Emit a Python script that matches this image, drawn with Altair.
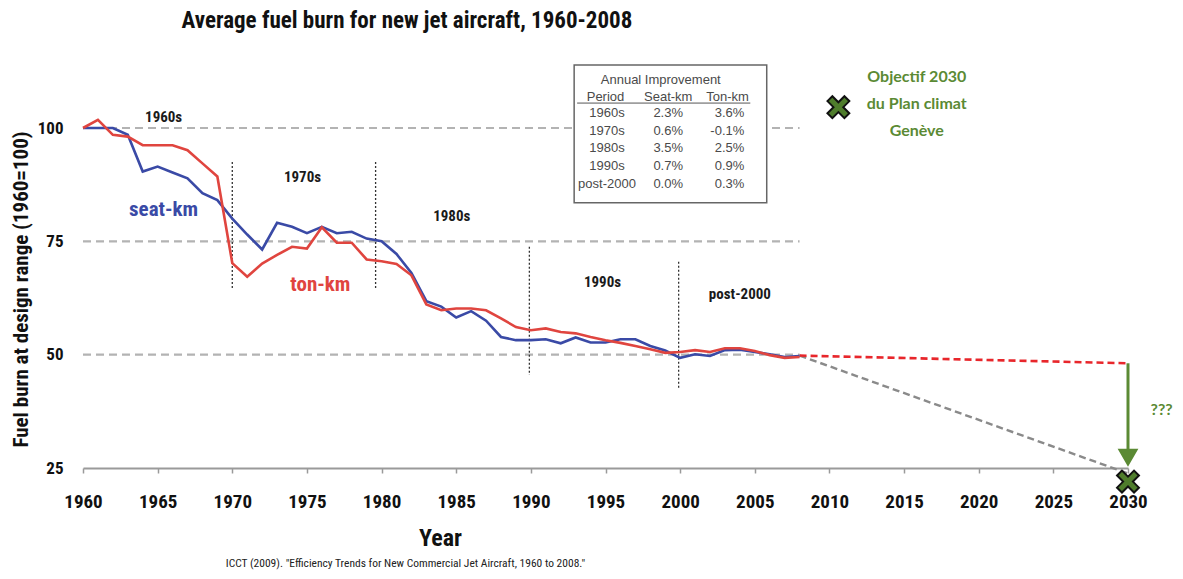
import altair as alt
import pandas as pd

# ---------------- data ----------------
years = list(range(1960, 2009))
seat_km = [100, 100, 100, 98.5, 90.4, 91.5, 90.2, 88.9, 85.6, 84.1,
           80.0, 76.5, 73.2, 79.1, 78.2, 76.8, 78.2, 76.8, 77.1, 75.6,
           75.0, 72.2, 68.0, 61.8, 60.6, 58.2, 59.6, 57.5, 53.9, 53.2,
           53.2, 53.4, 52.5, 53.8, 52.7, 52.7, 53.4, 53.4, 51.9, 50.9,
           49.3, 50.1, 49.7, 51.0, 51.1, 50.6, 50.1, 49.5, 49.7]
ton_km = [100, 101.8, 98.5, 98.1, 96.2, 96.2, 96.2, 95.1, 92.2, 89.3,
          70.2, 67.2, 70.1, 72.0, 73.8, 73.4, 78.1, 74.7, 74.7, 71.0,
          70.6, 70.0, 67.5, 61.1, 59.8, 60.2, 60.2, 59.8, 58.0, 56.1,
          55.4, 55.8, 55.0, 54.7, 53.9, 53.2, 52.6, 51.9, 51.2, 50.4,
          50.6, 51.0, 50.6, 51.4, 51.4, 50.8, 49.9, 49.3, 49.5]

x_ticks = list(range(1960, 2031, 5))
y_ticks = [25, 50, 75, 100]
grid_levels = [50, 75, 100]

# projections beyond 2008
proj_red_x = [2008, 2030]
proj_red_y = [49.8, 48.1]
proj_gray_x = [2008, 2030]
proj_gray_y = [49.8, 23.8]
arrow_x = [2030]
arrow_top = [48.1]
arrow_tip = [25.7]
target_x = [2010.6, 2030]
target_y = [104.6, 22.0]

# decade separators (dotted)
sep_years = [1970, 1979.6, 1989.9, 1999.9]
sep_top = [92.5, 92.5, 73.8, 70.5]
sep_bottom = [64.3, 64.3, 45.5, 42.6]

# decade labels
decade_text = ["1960s", "1970s", "1980s", "1990s", "post-2000"]
decade_x = [1965.4, 1974.7, 1984.7, 1994.8, 2004.0]
decade_y = [102.5, 89.2, 80.6, 66.0, 63.4]

# series labels
series_text = ["seat-km", "ton-km"]
series_x = [1965.4, 1975.9]
series_y = [81.9, 65.4]
series_color = ["#3a4aa6", "#e0453f"]

# improvement table
tbl_period = ["1960s", "1970s", "1980s", "1990s", "post-2000"]
tbl_seat = ["2.3%", "0.6%", "3.5%", "0.7%", "0.0%"]
tbl_ton = ["3.6%", "-0.1%", "2.5%", "0.9%", "0.3%"]
tbl_row_y = [103.2, 99.4, 95.5, 91.6, 87.6]
tbl_header = ["Period", "Seat-km", "Ton-km"]

# green legend text
legend_lines = ["Objectif 2030", "du Plan climat", "Genève"]
legend_y = [111.3, 105.3, 99.4]

TITLE = "Average fuel burn for new jet aircraft, 1960-2008"
CAPTION = 'ICCT (2009).  "Efficiency Trends for New  Commercial Jet Aircraft, 1960 to 2008."'

NARROW = "Roboto Condensed, Liberation Sans Narrow, DejaVu Sans Condensed, sans-serif"
GREEN = "#5b8a34"

# ---------------- shared encodings ----------------
xscale = alt.Scale(domain=[1960, 2030], nice=False, zero=False)
yscale = alt.Scale(domain=[25, 115], nice=False, zero=False)

X = alt.X("x:Q", scale=xscale, title="Year",
          axis=alt.Axis(values=x_ticks, format="d", grid=False,
                        labelFlush=False, labelOverlap=False,
                        labelFont=NARROW, labelFontSize=19, labelFontWeight="bold",
                        labelColor="#111", labelPadding=19,
                        domainColor="#9a9a9a", domainWidth=2,
                        tickColor="#9a9a9a", tickSize=5, tickWidth=1.5,
                        titleFont=NARROW, titleFontSize=24, titleFontWeight="bold",
                        titleColor="#111", titleX=357, titleY=70,
                        titleBaseline="middle", titleAlign="center"))
Y = alt.Y("y:Q", scale=yscale, title="Fuel burn at design range (1960=100)",
          axis=alt.Axis(values=y_ticks, grid=False, domain=False, ticks=False,
                        labelFlush=False, labelOverlap=False,
                        labelFont=NARROW, labelFontSize=17, labelFontWeight="bold",
                        labelColor="#111", labelPadding=20,
                        titleFont=NARROW, titleFontSize=21, titleFontWeight="bold",
                        titleColor="#111", titleAngle=270, titleX=-62, titleY=229,
                        titleBaseline="middle", titleAlign="center"))

# ---------------- layers ----------------
grid_df = pd.DataFrame({"y": grid_levels, "x": [1960] * 3, "x2": [2008] * 3})
grid = alt.Chart(grid_df).mark_rule(color="#b3b3b3", strokeWidth=2.2, strokeDash=[8, 5]).encode(
    x=X, x2="x2:Q", y=Y)

box_df = pd.DataFrame({"x": [1992.9], "x2": [2005.8], "y": [113.9], "y2": [83.5]})
box = alt.Chart(box_df).mark_rect(fill="white", stroke="#666", strokeWidth=1.5).encode(
    x=X, x2="x2:Q", y=Y, y2="y2:Q")

sep_df = pd.DataFrame({"x": sep_years, "y": sep_top, "y2": sep_bottom})
seps = alt.Chart(sep_df).mark_rule(color="#333", strokeWidth=1.3, strokeDash=[2, 2]).encode(
    x=X, y=Y, y2="y2:Q")

lines_df = pd.DataFrame({
    "x": years * 2,
    "y": seat_km + ton_km,
    "series": ["seat-km"] * len(years) + ["ton-km"] * len(years),
})
lines = alt.Chart(lines_df).mark_line(strokeWidth=2.6).encode(
    x=X, y=Y,
    color=alt.Color("series:N", scale=alt.Scale(domain=series_text, range=series_color), legend=None),
    detail="series:N")

red_df = pd.DataFrame({"x": proj_red_x, "y": proj_red_y})
red_proj = alt.Chart(red_df).mark_line(color="#e8262b", strokeWidth=2.6, strokeDash=[7, 4]).encode(x=X, y=Y)

gray_df = pd.DataFrame({"x": proj_gray_x, "y": proj_gray_y})
gray_proj = alt.Chart(gray_df).mark_line(color="#8a8a8a", strokeWidth=2.4, strokeDash=[7, 4]).encode(x=X, y=Y)

arrow_df = pd.DataFrame({"x": arrow_x, "y": arrow_top, "y2": [t + 2.5 for t in arrow_tip]})
arrow_shaft = alt.Chart(arrow_df).mark_rule(color=GREEN, strokeWidth=3).encode(x=X, y=Y, y2="y2:Q")
head_df = pd.DataFrame({"x": arrow_x, "y": arrow_tip})
arrow_head = alt.Chart(head_df).mark_point(
    shape="M0,0 L-1,-1.75 L1,-1.75 Z", size=300, filled=True, fill=GREEN, stroke=GREEN, opacity=1
).encode(x=X, y=Y)

target_df = pd.DataFrame({"x": target_x, "y": target_y})
targets = alt.Chart(target_df).mark_point(
    shape="M-1,-0.55 L-0.55,-1 L0,-0.45 L0.55,-1 L1,-0.55 L0.45,0 L1,0.55 L0.55,1 L0,0.45 L-0.55,1 L-1,0.55 L-0.45,0 Z",
    size=480, filled=True, fill="#4f7d2c", stroke="#111", strokeWidth=2, opacity=1
).encode(x=X, y=Y)

dec_df = pd.DataFrame({"x": decade_x, "y": decade_y, "t": decade_text})
decades = alt.Chart(dec_df).mark_text(font=NARROW, fontSize=15, fontWeight="bold", color="#1a1a1a",
                                      baseline="middle").encode(x=X, y=Y, text="t:N")

ser_df = pd.DataFrame({"x": series_x, "y": series_y, "t": series_text})
ser_labels = alt.Chart(ser_df).mark_text(font=NARROW, fontSize=21, fontWeight="bold",
                                         baseline="middle").encode(
    x=X, y=Y, text="t:N",
    color=alt.Color("t:N", scale=alt.Scale(domain=series_text, range=series_color), legend=None))

# table texts
TBL_FONT = "Liberation Sans, Arial, sans-serif"
tbl_c_df = pd.DataFrame({
    "x": [1998.7] + [1995.0, 1999.2] + [1995.1] * 5 + [1999.2] * 5,
    "y": [110.6, 106.9, 106.9] + tbl_row_y + tbl_row_y,
    "t": ["Annual Improvement"] + tbl_header[:2] + tbl_period + tbl_seat,
})
tbl_c = alt.Chart(tbl_c_df).mark_text(font=TBL_FONT, fontSize=13,
                                      color="#4a4a4a", baseline="middle", align="center").encode(
    x=X, y=Y, text="t:N")
tbl_r_df = pd.DataFrame({
    "x": [2004.6] + [2004.3] * 5,
    "y": [106.9] + tbl_row_y,
    "t": [tbl_header[2]] + tbl_ton,
})
tbl_r = alt.Chart(tbl_r_df).mark_text(font=TBL_FONT, fontSize=13,
                                      color="#4a4a4a", baseline="middle", align="right").encode(
    x=X, y=Y, text="t:N")
ul_df = pd.DataFrame({"x": [1993.1], "x2": [2004.7], "y": [105.5]})
underline = alt.Chart(ul_df).mark_rule(color="#555", strokeWidth=1).encode(x=X, x2="x2:Q", y=Y)

leg_df = pd.DataFrame({"x": [2015.85] * 3, "y": legend_y, "t": legend_lines})
legend_txt = alt.Chart(leg_df).mark_text(font="Lato, Open Sans, sans-serif", fontSize=16, fontWeight="bold",
                                         color=GREEN, baseline="middle").encode(x=X, y=Y, text="t:N")
q_df = pd.DataFrame({"x": [2032.25], "y": [37.8], "t": ["???"]})
q_txt = alt.Chart(q_df).mark_text(font="Lato, Open Sans, sans-serif", fontSize=16, fontWeight="bold",
                                  color=GREEN, baseline="middle").encode(x=X, y=Y, text="t:N")

title_df = pd.DataFrame({"x": [1981.7], "y": [123.6], "t": [TITLE]})
title_txt = alt.Chart(title_df).mark_text(font=NARROW, fontSize=23, fontWeight="bold", color="#111",
                                          baseline="middle").encode(x=X, y=Y, text="t:N")
cap_df = pd.DataFrame({"x": [1981.6], "y": [3.9], "t": [CAPTION]})
cap_txt = alt.Chart(cap_df).mark_text(font=NARROW, fontSize=11.5, color="#222",
                                      baseline="middle").encode(x=X, y=Y, text="t:N")

chart = alt.layer(
    grid, box, seps, gray_proj, red_proj, lines, arrow_shaft, arrow_head, targets,
    decades, ser_labels, underline, tbl_c, tbl_r, legend_txt, q_txt, title_txt, cap_txt
).properties(
    width=1045, height=408,
    autosize=alt.AutoSizeParams(type="none"),
    padding={"left": 75, "top": 52, "right": 47, "bottom": 102},
    background="white",
).configure_view(stroke=None)

chart.save("out.html", embed_options={"renderer": "svg", "actions": False})
